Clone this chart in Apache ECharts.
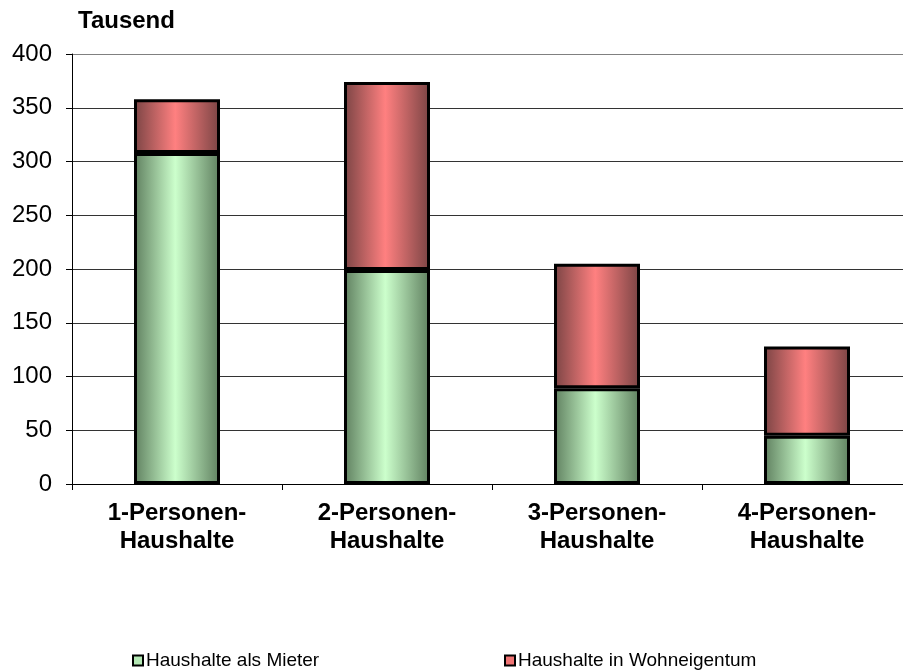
<!DOCTYPE html>
<html>
<head>
<meta charset="utf-8">
<script src="https://cdn.jsdelivr.net/npm/echarts@6/dist/echarts.min.js"></script>
<style>
  html, body { margin: 0; padding: 0; background: #fff; }
  #chart { width: 903px; height: 671px; }
</style>
</head>
<body>
<div id="chart"></div>
<script>
// Daten (Tausend)
const categories = ['1-Personen-\nHaushalte', '2-Personen-\nHaushalte', '3-Personen-\nHaushalte', '4-Personen-\nHaushalte'];
const mieter = [308, 199, 89, 45];
const eigentum = [50, 175, 116, 83];
const yTicks = [0, 50, 100, 150, 200, 250, 300, 350, 400];

const font = '"Liberation Sans", Arial, sans-serif';

// Zylinder-artiger Farbverlauf wie im Original
const shade = (edge, mid) => new echarts.graphic.LinearGradient(0, 0, 1, 0, [
    {offset: 0, color: edge},
    {offset: 0.48, color: mid},
    {offset: 1, color: edge}
]);

const chart = echarts.init(document.getElementById('chart'));

chart.setOption({
    animation: false,
    textStyle: {fontFamily: font},
    title: {
        text: 'Tausend',
        left: 73, top: 4,
        textStyle: {fontFamily: font, fontSize: 24, fontWeight: 'bold', color: '#000'}
    },
    legend: [
        {
            left: 127, top: 646,
            icon: 'rect', itemWidth: 10, itemHeight: 10, itemGap: 0,
            textStyle: {fontFamily: font, fontSize: 19, color: '#000', padding: [0, 0, 0, -2]},
            data: [{name: 'Haushalte als Mieter', itemStyle: {color: '#b4e8b4', borderColor: '#000', borderWidth: 2}}]
        },
        {
            left: 499, top: 646,
            icon: 'rect', itemWidth: 10, itemHeight: 10, itemGap: 0,
            textStyle: {fontFamily: font, fontSize: 19, color: '#000', padding: [0, 0, 0, -2]},
            data: [{name: 'Haushalte in Wohneigentum', itemStyle: {color: '#f07474', borderColor: '#000', borderWidth: 2}}]
        }
    ],
    // Plotfläche reicht rechts über den Rand hinaus wie im Original
    grid: {left: 72, width: 840, top: 54, height: 430, outerBoundsMode: 'none'},
    xAxis: {
        type: 'category',
        data: categories,
        axisLine: {lineStyle: {color: '#000', width: 1}},
        axisTick: {show: true, length: 6, lineStyle: {color: '#000'}},
        axisLabel: {
            fontFamily: font, fontSize: 24, fontWeight: 'bold', color: '#000',
            lineHeight: 28, margin: 15
        }
    },
    yAxis: {
        type: 'value',
        min: 0, max: 400, interval: 50,
        axisLine: {show: true, lineStyle: {color: '#000', width: 1}},
        axisTick: {show: true, length: 6, lineStyle: {color: '#000'}},
        axisLabel: {
            fontFamily: font, fontSize: 24, color: '#000', margin: 20,
            formatter: v => yTicks.includes(v) ? String(v) : ''
        },
        splitLine: {
            show: true,
            lineStyle: {color: ['#000', '#333', '#333', '#333', '#333', '#333', '#333', '#333', '#808080'], width: 1}
        }
    },
    series: [
        {
            name: 'Haushalte als Mieter',
            type: 'bar',
            stack: 'total',
            barWidth: 86,
            data: mieter,
            itemStyle: {color: shade('#5f7f5f', '#ccffcc'), borderColor: '#000', borderWidth: 3}
        },
        {
            name: 'Haushalte in Wohneigentum',
            type: 'bar',
            stack: 'total',
            barWidth: 86,
            data: eigentum,
            itemStyle: {color: shade('#7a4444', '#ff8080'), borderColor: '#000', borderWidth: 3}
        }
    ]
});
</script>
</body>
</html>
